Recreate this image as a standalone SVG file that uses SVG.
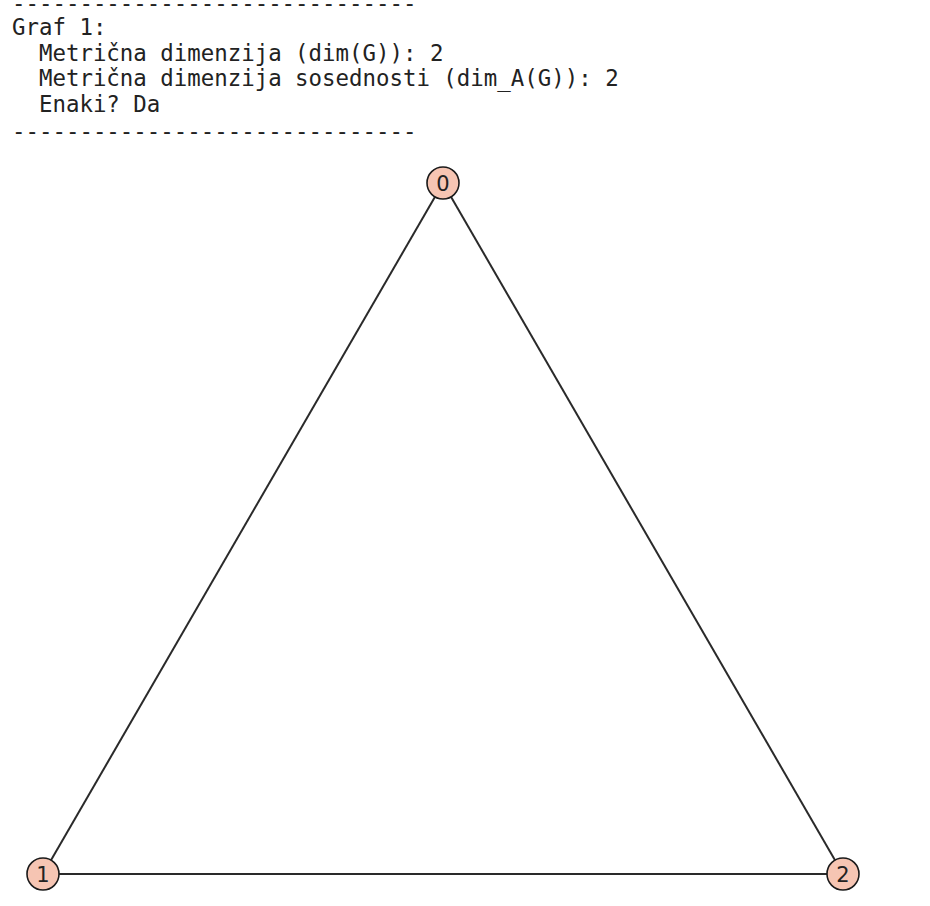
<svg xmlns="http://www.w3.org/2000/svg" width="930" height="906" viewBox="0 0 930 906">
<style>
.t{font-family:"DejaVu Sans Mono","Liberation Mono",monospace;font-size:22.4px;fill:#222;white-space:pre}
.e{stroke:#2a2a2a;stroke-width:2;fill:none}
.n{fill:#f6c5b3;stroke:#1a1a1a;stroke-width:1.6}
.l{font-family:"DejaVu Sans","Liberation Sans",sans-serif;font-size:21px;fill:#222;text-anchor:middle}
</style>
<rect width="930" height="906" fill="#fff"/>
<g id="text">
<text class="t" x="12" y="11">------------------------------</text>
<text class="t" x="12" y="35">Graf 1:</text>
<text class="t" x="12" y="60.5">  Metrična dimenzija (dim(G)): 2</text>
<text class="t" x="12" y="86">  Metrična dimenzija sosednosti (dim_A(G)): 2</text>
<text class="t" x="12" y="111.5">  Enaki? Da</text>
<text class="t" x="12" y="139">------------------------------</text>
</g>
<g id="edges">
<line class="e" x1="443" y1="183" x2="43" y2="874"/>
<line class="e" x1="443" y1="183" x2="843" y2="874"/>
<line class="e" x1="43" y1="874" x2="843" y2="874"/>
</g>
<g id="node0"><circle class="n" cx="443" cy="183" r="16"/><text class="l" x="443" y="190.5">0</text></g>
<g id="node1"><circle class="n" cx="43" cy="874" r="16"/><text class="l" x="43" y="881.5">1</text></g>
<g id="node2"><circle class="n" cx="843" cy="874" r="16"/><text class="l" x="843" y="881.5">2</text></g>
</svg>
